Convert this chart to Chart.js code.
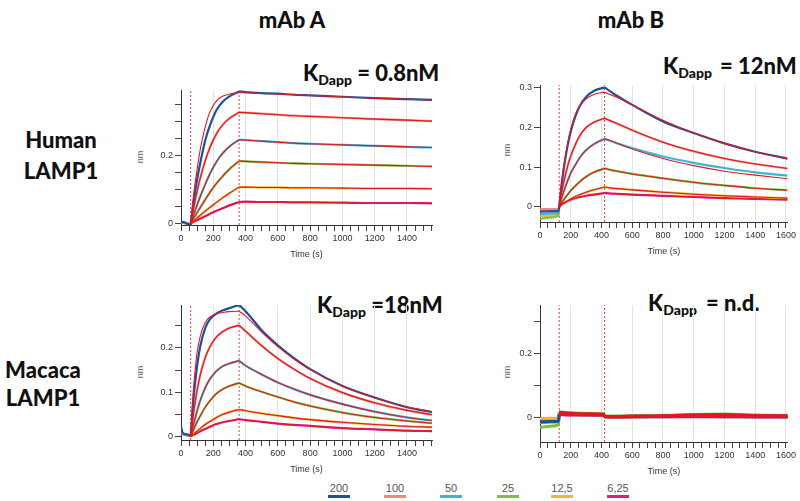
<!DOCTYPE html>
<html>
<head>
<meta charset="utf-8">
<script src="https://cdn.jsdelivr.net/npm/chart.js@4.4.0/dist/chart.umd.min.js"></script>
<style>
  body { margin: 0; background: #fff; }
  #fig { position: relative; width: 800px; height: 501px; overflow: hidden; font-family: Lato, sans-serif; }
  #fig canvas { position: absolute; }
  .lbl { position: absolute; font-weight: 900; font-size: 22px; line-height: 22px; color: #111; white-space: nowrap; }
  .lbl sub { font-size: 14px; vertical-align: -4px; line-height: 0; }
  .ttl { width: 100px; text-align: center; }
  .row { width: 100px; text-align: center; }
  .nm { position: absolute; width: 20px; height: 10px; line-height: 10px; text-align: center; font: 9px 'Liberation Sans', Arial, sans-serif; color: #666; transform: rotate(-90deg); }
  .leg { position: absolute; top: 482px; width: 22px; text-align: center; font: 11px 'Liberation Sans', Arial, sans-serif; color: #555; border-bottom: 3px solid; line-height: 13px; }
</style>
</head>
<body>
<div id="fig">
  <div class="lbl ttl" style="left:242px;top:9px">mAb A</div>
  <div class="lbl ttl" style="left:581px;top:9px">mAb B</div>

  <div class="lbl row" style="left:11px;top:124px;line-height:31px">Human<br>LAMP1</div>
  <div class="lbl row" style="left:-7px;top:356px;line-height:28px">Macaca<br>LAMP1</div>

  <div class="lbl" style="left:303px;top:62px">K<sub>Dapp</sub> = 0.8nM</div>
  <div class="lbl" style="left:663px;top:55px">K<sub>Dapp</sub><span style="margin-left:8px">= 12nM</span></div>
  <div class="lbl" style="left:317px;top:294px">K<sub>Dapp</sub> =18nM</div>
  <div class="lbl" style="left:648px;top:292px">K<sub>Dapp</sub><span style="margin-left:9px">= n.d.</span></div>

  <div class="nm" style="left:130px;top:152px">nm</div>
  <div class="nm" style="left:497px;top:145px">nm</div>
  <div class="nm" style="left:130px;top:367px">nm</div>
  <div class="nm" style="left:497px;top:367px">nm</div>

  <canvas id="humanA" width="304" height="183" style="left:136px;top:80px"></canvas>
  <canvas id="humanB" width="303" height="185" style="left:495px;top:75px"></canvas>
  <canvas id="macacaA" width="304" height="183" style="left:136px;top:295px"></canvas>
  <canvas id="macacaB" width="303" height="185" style="left:495px;top:295px"></canvas>

  <div id="legend"></div>
</div>

<script>
// concentrations (nM) and their trace colours
const concLabels = ['200', '100', '50', '25', '12,5', '6,25'];
const concColors = ['#1f4f9f', '#f2877b', '#3ab5d6', '#7dc142', '#f1b52f', '#e11d7c'];
const fitColor = '#e3171e';

// mAb A runs: baseline, association from 60 s, dissociation from 360 s
const timeA = [0, 10, 30, 58, 60, 70, 80, 100, 120, 150, 180, 220, 260, 300, 360, 400, 500, 600, 700, 800, 1000, 1200, 1400, 1555];
const stepsA = [60, 360];

const humanA200 = [0.004, 0.004, 0.001, -0.004, -0.002, 0.035, 0.07, 0.13, 0.18, 0.245, 0.29, 0.335, 0.36, 0.375, 0.39, 0.388, 0.385, 0.383, 0.38, 0.378, 0.374, 0.37, 0.367, 0.365];
const humanA100 = [0.004, 0.003, 0.001, -0.004, -0.002, 0.025, 0.05, 0.095, 0.135, 0.185, 0.225, 0.265, 0.292, 0.31, 0.328, 0.327, 0.324, 0.321, 0.318, 0.316, 0.312, 0.308, 0.305, 0.302];
const humanA50 = [0.003, 0.003, 0.001, -0.003, -0.002, 0.014, 0.028, 0.055, 0.08, 0.115, 0.147, 0.182, 0.208, 0.227, 0.247, 0.246, 0.243, 0.24, 0.237, 0.235, 0.232, 0.229, 0.226, 0.224];
const humanA25 = [0.003, 0.002, 0.0, -0.003, -0.002, 0.008, 0.016, 0.032, 0.047, 0.07, 0.092, 0.118, 0.14, 0.16, 0.184, 0.183, 0.181, 0.179, 0.177, 0.176, 0.174, 0.172, 0.17, 0.168];
const humanA12 = [0.002, 0.002, 0.0, -0.003, -0.002, 0.004, 0.008, 0.016, 0.024, 0.036, 0.047, 0.062, 0.076, 0.089, 0.107, 0.107, 0.106, 0.106, 0.105, 0.105, 0.104, 0.103, 0.103, 0.102];
const humanA6 = [0.002, 0.001, 0.0, -0.002, -0.002, 0.002, 0.005, 0.009, 0.014, 0.021, 0.028, 0.037, 0.045, 0.053, 0.063, 0.064, 0.063, 0.063, 0.062, 0.062, 0.061, 0.06, 0.06, 0.059];
// fit of the 200 nM trace (from 60 s on)
const humanAFit200 = [-0.002, 0.048, 0.092, 0.16, 0.22, 0.285, 0.33, 0.362, 0.376, 0.382, 0.386, 0.386, 0.384, 0.382, 0.38, 0.378, 0.374, 0.37, 0.367, 0.364];

const macacaA200 = [0.022, 0.008, 0.005, 0.001, 0.0, 0.05, 0.095, 0.16, 0.205, 0.245, 0.265, 0.278, 0.285, 0.29, 0.297, 0.283, 0.24, 0.206, 0.177, 0.152, 0.114, 0.088, 0.066, 0.055];
const macacaA100 = [0.02, 0.008, 0.005, 0.001, 0.0, 0.03, 0.058, 0.105, 0.14, 0.178, 0.203, 0.225, 0.237, 0.245, 0.251, 0.238, 0.205, 0.176, 0.152, 0.131, 0.099, 0.076, 0.059, 0.049];
const macacaA50 = [0.018, 0.007, 0.004, 0.001, 0.0, 0.015, 0.03, 0.058, 0.082, 0.11, 0.13, 0.148, 0.159, 0.165, 0.171, 0.16, 0.14, 0.122, 0.107, 0.094, 0.073, 0.056, 0.043, 0.036];
const macacaA25 = [0.016, 0.007, 0.004, 0.001, 0.0, 0.008, 0.017, 0.033, 0.047, 0.066, 0.081, 0.097, 0.107, 0.114, 0.121, 0.114, 0.101, 0.089, 0.078, 0.069, 0.054, 0.043, 0.035, 0.03];
const macacaA12 = [0.015, 0.006, 0.004, 0.001, 0.0, 0.003, 0.006, 0.012, 0.018, 0.027, 0.034, 0.043, 0.05, 0.055, 0.061, 0.058, 0.052, 0.047, 0.042, 0.038, 0.032, 0.027, 0.023, 0.021];
const macacaA6 = [0.014, 0.006, 0.003, 0.001, 0.0, 0.002, 0.004, 0.008, 0.012, 0.017, 0.022, 0.028, 0.032, 0.035, 0.039, 0.037, 0.033, 0.029, 0.026, 0.024, 0.019, 0.016, 0.013, 0.012];
const macacaAFit200 = [0.0, 0.07, 0.12, 0.19, 0.228, 0.257, 0.27, 0.277, 0.28, 0.282, 0.283, 0.272, 0.236, 0.203, 0.175, 0.151, 0.114, 0.087, 0.067, 0.056];

// mAb B runs: association from 125 s, dissociation from 420 s
const timeB = [0, 60, 120, 125, 140, 160, 180, 200, 230, 260, 300, 350, 420, 450, 500, 600, 800, 1000, 1200, 1400, 1610];
const stepsB = [125, 420];

const humanB200 = [-0.012, -0.011, -0.01, 0, 0.055, 0.11, 0.155, 0.19, 0.228, 0.255, 0.277, 0.292, 0.301, 0.293, 0.28, 0.257, 0.215, 0.186, 0.16, 0.139, 0.122];
const humanB100 = [-0.006, -0.006, -0.005, 0, 0.035, 0.072, 0.103, 0.128, 0.157, 0.18, 0.2, 0.213, 0.223, 0.218, 0.21, 0.193, 0.163, 0.14, 0.122, 0.108, 0.097];
const humanB50 = [-0.018, -0.017, -0.015, 0, 0.022, 0.045, 0.066, 0.085, 0.106, 0.125, 0.143, 0.158, 0.172, 0.167, 0.16, 0.148, 0.127, 0.111, 0.098, 0.087, 0.079];
const humanB25 = [-0.03, -0.027, -0.022, 0, 0.01, 0.021, 0.031, 0.041, 0.053, 0.064, 0.076, 0.087, 0.097, 0.094, 0.09, 0.083, 0.072, 0.062, 0.054, 0.047, 0.042];
const humanB12 = [-0.024, -0.022, -0.018, 0, 0.005, 0.01, 0.015, 0.02, 0.026, 0.031, 0.037, 0.043, 0.05, 0.048, 0.046, 0.043, 0.037, 0.032, 0.028, 0.025, 0.022];
const humanB6 = [-0.007, -0.007, -0.006, 0, 0.006, 0.011, 0.015, 0.018, 0.022, 0.025, 0.028, 0.031, 0.035, 0.034, 0.033, 0.031, 0.028, 0.025, 0.022, 0.02, 0.018];
const humanBFit200 = [0, 0.06, 0.115, 0.16, 0.195, 0.232, 0.255, 0.272, 0.283, 0.289, 0.284, 0.276, 0.257, 0.218, 0.186, 0.16, 0.139, 0.12];
const humanBFit50 = [0, 0.022, 0.045, 0.066, 0.085, 0.106, 0.125, 0.143, 0.158, 0.171, 0.168, 0.161, 0.146, 0.122, 0.104, 0.09, 0.08, 0.071];

const timeMB = [0, 60, 120, 125, 200, 300, 415, 420, 500, 600, 800, 1000, 1200, 1400, 1610];
const macacaB200 = [-0.012, -0.011, -0.01, 0.012, 0.011, 0.01, 0.01, 0.004, 0.004, 0.004, 0.004, 0.005, 0.004, 0.004, 0.003];
const macacaB100 = [-0.01, -0.009, -0.008, 0.013, 0.012, 0.011, 0.011, 0.005, 0.004, 0.004, 0.005, 0.005, 0.005, 0.004, 0.004];
const macacaB50 = [-0.015, -0.013, -0.012, 0.014, 0.012, 0.011, 0.01, 0.004, 0.004, 0.005, 0.005, 0.006, 0.006, 0.005, 0.005];
const macacaB25 = [-0.03, -0.026, -0.022, 0.019, 0.016, 0.014, 0.013, 0.006, 0.006, 0.007, 0.008, 0.011, 0.012, 0.009, 0.008];
const macacaB12 = [-0.002, -0.001, 0.0, 0.015, 0.013, 0.012, 0.011, 0.003, 0.002, 0.003, 0.005, 0.007, 0.008, 0.007, 0.006];
const macacaB6 = [-0.014, -0.012, -0.011, 0.01, 0.009, 0.009, 0.008, 0.003, 0.003, 0.003, 0.004, 0.004, 0.004, 0.003, 0.003];

const tickFont = { family: "'Liberation Sans', Arial, sans-serif", size: 9 };

// break the line at each step so every phase is smoothed on its own
function toPoints(times, values, steps) {
  const pts = [];
  times.forEach((x, i) => {
    pts.push({ x: x, y: values[i] });
    if (steps.includes(x)) pts.push({ x: x, y: null }, { x: x, y: values[i] });
  });
  return pts;
}

function panel(id, p) {
  const start = p.time.indexOf(p.steps[0]);
  const fitTime = p.time.slice(start);
  const dataWidth = p.dataWidth || 2.2;
  const fitWidth = p.fitWidth || 1.1;
  const datasets = [];
  p.series.forEach((vals, k) => {
    const fit = p.fits[k] || vals.slice(start);
    datasets.push({ data: toPoints(fitTime, fit, p.steps), borderColor: fitColor, borderWidth: fitWidth, showLine: true, order: 0 });
    datasets.push({ data: toPoints(p.time, vals, p.steps), borderColor: concColors[k], borderWidth: dataWidth, showLine: true, order: 1 });
  });
  p.steps.forEach(s => {
    datasets.push({ data: [{ x: s, y: p.yMin }, { x: s, y: p.yMax }], borderColor: '#e0453d', borderWidth: 1,
      borderDash: [2, 2], showLine: true, tension: 0, cubicInterpolationMode: 'default', order: 2 });
  });

  new Chart(document.getElementById(id), {
    type: 'scatter',
    data: { datasets: datasets },
    options: {
      responsive: false,
      animation: false,
      layout: { padding: { top: 10, right: 8, left: 0, bottom: 0 } },
      plugins: { legend: { display: false }, tooltip: { enabled: false } },
      elements: { point: { radius: 0 }, line: { cubicInterpolationMode: 'monotone' } },
      scales: {
        x: {
          type: 'linear', min: 0, max: p.xMax,
          afterFit: s => { s.height = 38; },
          border: { color: '#333' },
          grid: {
            color: c => (c.tick && c.tick.value > 0 && c.tick.value % 200 === 0) ? '#e3e3e3' : 'rgba(0,0,0,0)',
            tickColor: '#444', tickLength: 6
          },
          ticks: {
            stepSize: 50, autoSkip: false, maxRotation: 0, includeBounds: false, padding: 2,
            color: '#333', font: tickFont,
            callback: v => (v % 200 === 0 ? String(v) : '')
          },
          title: { display: true, text: 'Time (s)', color: '#333', font: tickFont, padding: { top: 0, bottom: 3 } }
        },
        y: {
          min: p.yMin, max: p.yMax,
          afterFit: s => { s.width = 45; },
          border: { color: '#333' },
          grid: { drawOnChartArea: false, tickColor: '#444', tickLength: 6 },
          ticks: {
            stepSize: p.yStep, includeBounds: false, padding: 2, color: '#333', font: tickFont,
            callback: v => (p.yLabels.some(l => Math.abs(l - v) < 1e-9) ? String(+v.toFixed(2)) : '')
          }
        }
      }
    }
  });
}

panel('humanA', {
  time: timeA, steps: stepsA, xMax: 1555, yMin: -0.005, yMax: 0.394, yStep: 0.05, yLabels: [0, 0.2],
  series: [humanA200, humanA100, humanA50, humanA25, humanA12, humanA6],
  fits: [humanAFit200]
});
panel('humanB', {
  time: timeB, steps: stepsB, xMax: 1612, yMin: -0.038, yMax: 0.307, yStep: 0.1, yLabels: [0, 0.1, 0.2, 0.3],
  series: [humanB200, humanB100, humanB50, humanB25, humanB12, humanB6],
  fits: [humanBFit200, null, humanBFit50]
});
panel('macacaA', {
  time: timeA, steps: stepsA, xMax: 1555, yMin: -0.008, yMax: 0.297, yStep: 0.05, yLabels: [0, 0.1, 0.2],
  series: [macacaA200, macacaA100, macacaA50, macacaA25, macacaA12, macacaA6],
  fits: [macacaAFit200]
});
panel('macacaB', {
  time: timeMB, steps: stepsB, xMax: 1612, yMin: -0.075, yMax: 0.352, yStep: 0.1, yLabels: [0, 0.2],
  series: [macacaB200, macacaB100, macacaB50, macacaB25, macacaB12, macacaB6],
  fits: [], dataWidth: 3, fitWidth: 2.2
});

// legend under the panels
const legendX = [339, 395, 451, 508, 562, 618];
const legend = document.getElementById('legend');
concLabels.forEach((txt, i) => {
  const d = document.createElement('div');
  d.className = 'leg';
  d.style.left = (legendX[i] - 11) + 'px';
  d.style.borderBottomColor = concColors[i];
  d.textContent = txt;
  legend.appendChild(d);
});
</script>
</body>
</html>
